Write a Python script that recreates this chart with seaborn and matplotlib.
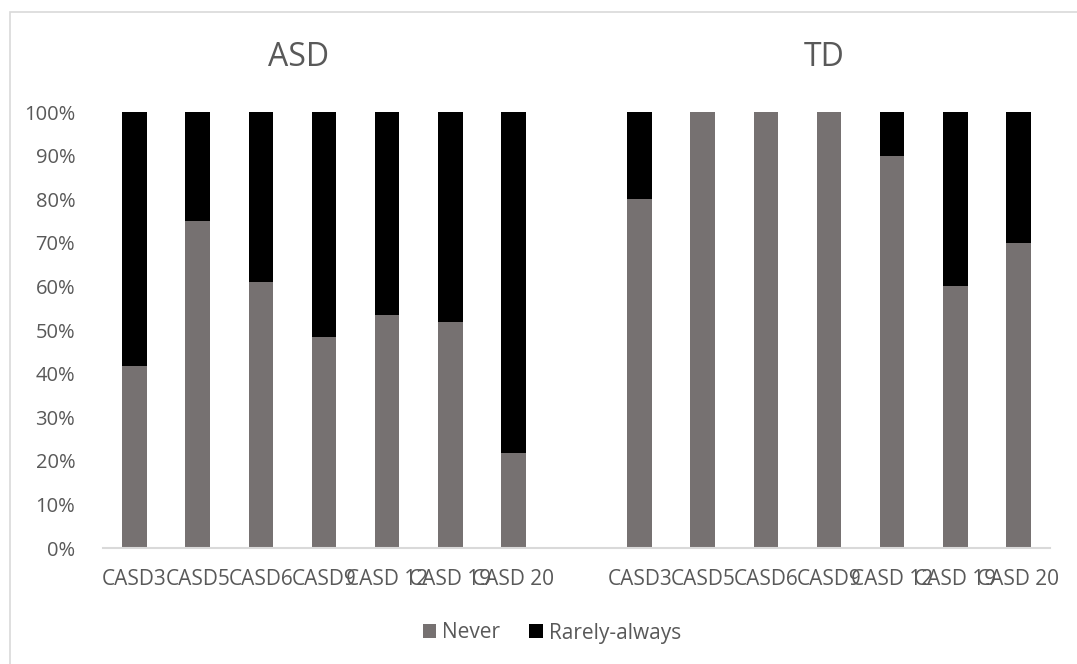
import matplotlib
matplotlib.use("Agg")
import matplotlib.pyplot as plt
from matplotlib.patches import Rectangle, Patch
import numpy as np
import pandas as pd
import seaborn as sns

# Response shares (%) per item, for each group
items = ["CASD3", "CASD5", "CASD6", "CASD9", "CASD 12", "CASD 19", "CASD 20"]
asd_never = [41.7, 75.0, 61.1, 48.5, 53.4, 51.8, 21.9]
asd_rarely = [58.3, 25.0, 38.9, 51.5, 46.6, 48.2, 78.1]
td_never = [80.0, 100.0, 100.0, 100.0, 90.0, 60.0, 70.0]
td_rarely = [20.0, 0.0, 0.0, 0.0, 10.0, 40.0, 30.0]
groups = ["ASD", "TD"]
y_ticks = [0, 10, 20, 30, 40, 50, 60, 70, 80, 90, 100]

GREY = "#767171"
BLACK = "#000000"
TEXT = "#595959"
LINE = "#D9D9D9"

sns.set_theme(style="white")
plt.rcParams["font.family"] = ["Open Sans", "DejaVu Sans"]

# ASD items occupy slots 0-6, one empty slot, TD items slots 8-14
n = len(items)
pos = list(range(n)) + list(range(n + 1, 2 * n + 1))
df = pd.DataFrame({
    "pos": pos,
    "item": items + items,
    "group": [groups[0]] * n + [groups[1]] * n,
    "never": asd_never + td_never,
    "rarely": asd_rarely + td_rarely,
})
df["total"] = df["never"] + df["rarely"]

fig = plt.figure(figsize=(10.77, 6.64), dpi=100)
ax = fig.add_axes([103 / 1077, 1 - 548 / 664, (1050 - 103) / 1077, (548 - 112) / 664])

# stacked bars: full height in black, "Never" share over it in grey
sns.barplot(data=df, x="pos", y="total", native_scale=True, width=0.39,
            color=BLACK, saturation=1, linewidth=0, ax=ax, errorbar=None)
sns.barplot(data=df, x="pos", y="never", native_scale=True, width=0.39,
            color=GREY, saturation=1, linewidth=0, ax=ax, errorbar=None)

ax.set_xlim(-0.5, 2 * n + 0.5)
ax.set_ylim(0, 100)
ax.set_yticks(y_ticks)
ax.set_yticklabels([f"{v}%" for v in y_ticks], fontsize=14.5, color=TEXT)
ax.set_xticks(df["pos"])
ax.set_xticklabels(df["item"], fontsize=15, color=TEXT)
ax.tick_params(axis="y", length=0, pad=20)
ax.tick_params(axis="x", length=0, pad=15)
ax.set_xlabel("")
ax.set_ylabel("")
ax.grid(False)
for side in ["left", "right", "top"]:
    ax.spines[side].set_visible(False)
ax.spines["bottom"].set_color(LINE)
ax.spines["bottom"].set_linewidth(1.5)

# group titles
fig.text(299 / 1077, 1 - 57 / 664, groups[0], ha="center", va="center",
         fontsize=23, color=TEXT)
fig.text(824 / 1077, 1 - 57 / 664, groups[1], ha="center", va="center",
         fontsize=23, color=TEXT)

# legend
handles = [Patch(facecolor=GREY, edgecolor="none", label="Never"),
           Patch(facecolor=BLACK, edgecolor="none", label="Rarely-always")]
fig.legend(handles=handles, loc="center", bbox_to_anchor=(552 / 1077, 1 - 633 / 664),
           ncol=2, frameon=False, fontsize=15, handlelength=0.65, handleheight=0.65,
           handletextpad=0.3, columnspacing=1.4, labelcolor=TEXT)

# chart frame
fig.patches.append(Rectangle((10 / 1077, -0.01), 1.1, 1 - 12 / 664 + 0.01,
                             transform=fig.transFigure, fill=False,
                             edgecolor=LINE, linewidth=1.2))

fig.savefig("out.png", dpi=100, facecolor="white")
